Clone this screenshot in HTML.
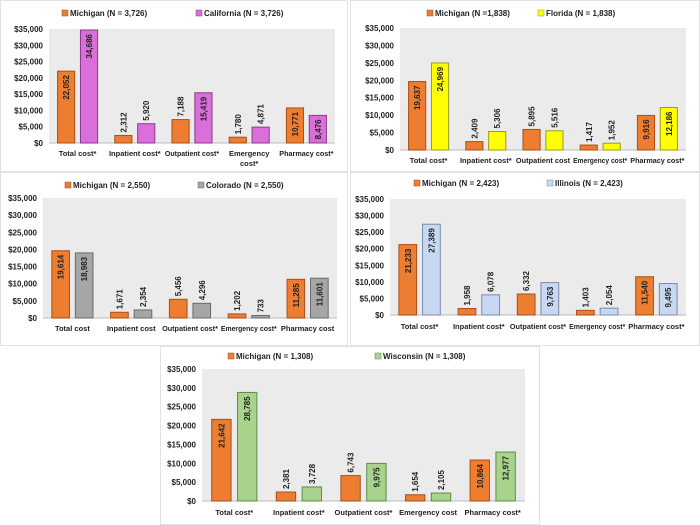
<!DOCTYPE html>
<html><head><meta charset="utf-8"><style>
html,body{margin:0;padding:0;background:#fff;}
body{width:700px;height:525px;overflow:hidden;position:relative;font-family:"Liberation Sans",sans-serif;}
svg{position:absolute;left:0;top:0;}
</style></head><body>
<svg id="c" width="700" height="525" viewBox="0 0 700 525"></svg>
<script>
const categories1=["Total cost*","Inpatient cost*","Outpatient cost*","Emergency|cost*","Pharmacy cost*"];
const michigan1=[22052,2312,7188,1780,10771];
const other1=[34686,5920,15419,4871,8476];
const categories2=["Total cost*","Inpatient cost*","Outpatient cost","Emergency cost*","Pharmacy cost*"];
const michigan2=[19637,2409,5895,1417,9916];
const other2=[24969,5306,5516,1952,12186];
const categories3=["Total cost","Inpatient cost","Outpatient cost*","Emergency cost*","Pharmacy cost"];
const michigan3=[19614,1671,5456,1202,11285];
const other3=[18983,2354,4296,733,11601];
const categories4=["Total cost*","Inpatient cost*","Outpatient cost*","Emergency cost*","Pharmacy cost*"];
const michigan4=[21233,1958,6332,1403,11540];
const other4=[27389,6078,9763,2054,9495];
const categories5=["Total cost*","Inpatient cost*","Outpatient cost*","Emergency cost","Pharmacy cost*"];
const michigan5=[21642,2381,6743,1654,10864];
const other5=[28785,3728,9975,2105,12977];
const yTicks=[0,5000,10000,15000,20000,25000,30000,35000];
const yMax=35000;

const NS="http://www.w3.org/2000/svg";
const svg=document.getElementById('c');
function mk(tag,attrs,parent){const e=document.createElementNS(NS,tag);for(const k in attrs)e.setAttribute(k,attrs[k]);(parent||svg).appendChild(e);return e;}
function fmt(v){return v.toLocaleString('en-US');}

const panels=[
 {id:1,box:[0,0,348,172],px:[49,335],py:[29,143],ly:153,legY:14,leg:[[70,"Michigan (N = 3,726)"],[204,"California (N = 3,726)"]],color:"#DA6FDB",stroke:"#8a3a8a",cats:categories1,m:michigan1,o:other1,name:"california"},
 {id:2,box:[350,0,700,172],px:[400,686],py:[28,150],ly:160,legY:14,leg:[[435,"Michigan (N =1,838)"],[546,"Florida (N = 1,838)"]],color:"#FFFF00",stroke:"#9a9a20",cats:categories2,m:michigan2,o:other2,name:"florida"},
 {id:3,box:[0,172,348,346],px:[43,337],py:[198,318],ly:328,legY:186,leg:[[73,"Michigan (N = 2,550)"],[206,"Colorado (N = 2,550)"]],color:"#A6A6A6",stroke:"#6a6a6a",cats:categories3,m:michigan3,o:other3,name:"colorado"},
 {id:4,box:[350,172,700,346],px:[390,686],py:[199,315],ly:326,legY:184,leg:[[422,"Michigan (N = 2,423)"],[555,"Illinois (N = 2,423)"]],color:"#C9D8F2",stroke:"#7a8aa8",cats:categories4,m:michigan4,o:other4,name:"illinois"},
 {id:5,box:[160,346,540,525],px:[202,525],py:[369,501],ly:512,legY:357,leg:[[236,"Michigan (N = 1,308)"],[383,"Wisconsin (N = 1,308)"]],color:"#A9D38C",stroke:"#5f8a4a",cats:categories5,m:michigan5,o:other5,name:"wisconsin"}
];

panels.forEach(p=>{
 const g=mk('g',{});
 
 
 const b=p.box;
 const fr=mk('rect',{x:b[0]+0.5,y:b[1]+0.5,width:b[2]-b[0]-1,height:b[3]-b[1]-1,fill:'#fff',stroke:'#e2e2e2','stroke-width':1},g);
 
 
 const [x0,x1]=p.px,[yt,yb]=p.py;
 const yS=v=>yb-(v/yMax)*(yb-yt);
 const pa=mk('rect',{x:x0,y:yt,width:x1-x0,height:yb-yt,fill:'#ebebeb'},g);
 
 
 yTicks.forEach(t=>{
  const tx=mk('text',{x:x0-6,y:yS(t)+3,'text-anchor':'end','font-size':'8','font-weight':'bold',fill:'#222'},g);
  tx.textContent='$'+fmt(t);
  
  
 });
 mk('line',{x1:x0,x2:x1,y1:yb,y2:yb,stroke:'#bbb','stroke-width':1},g);
 [[ '#ED7D31','#a84f18'],[p.color,p.stroke]].forEach((c,i)=>{
  const [lx,lt]=p.leg[i];
  const sq=mk('rect',{x:lx-8,y:p.legY-4,width:6,height:6,fill:c[0],stroke:c[1],'stroke-width':0.5},g);
  
  
  const t=mk('text',{x:lx,y:p.legY+2,'font-size':'8','font-weight':'bold',fill:'#222'},g);
  t.textContent=lt;
  
  
 });
 const w=(x1-x0)/p.cats.length, bw=w*0.3, gap=w*0.1;
 p.cats.forEach((cat,i)=>{
  const cx=x0+w*(i+0.5);
  [[p.m[i],'#ED7D31','#a84f18',cx-gap/2-bw,'michigan'],[p.o[i],p.color,p.stroke,cx+gap/2,p.name]].forEach(s=>{
   const [v,fill,st,bx,sn]=s;
   const y=yS(v);
   const r=mk('rect',{x:bx,y:y,width:bw,height:yb-y,fill:fill,stroke:st,'stroke-width':1},g);
   
   
   const lx=bx+bw/2+3;
   let t;
   if(v>=8000){
    t=mk('text',{x:0,y:0,'font-size':'8','font-weight':'bold',fill:'#222','text-anchor':'end',transform:`translate(${lx},${y+4}) rotate(-90)`},g);
   }else{
    t=mk('text',{x:0,y:0,'font-size':'8','font-weight':'bold',fill:'#222','text-anchor':'start',transform:`translate(${lx},${y-3}) rotate(-90)`},g);
   }
   t.textContent=fmt(v);
   
   
  });
  const parts=cat.split('|');
  parts.forEach((pt,j)=>{
   const t=mk('text',{x:cx,y:p.ly+3+j*10,'text-anchor':'middle','font-size':'7.5','font-weight':'bold',fill:'#222'},g);
   t.textContent=pt;
   
   
   const len=t.getComputedTextLength();
   if(len>w-3){t.setAttribute('textLength',w-3);t.setAttribute('lengthAdjust','spacingAndGlyphs');}
  });
 });
});
</script>
</body></html>
